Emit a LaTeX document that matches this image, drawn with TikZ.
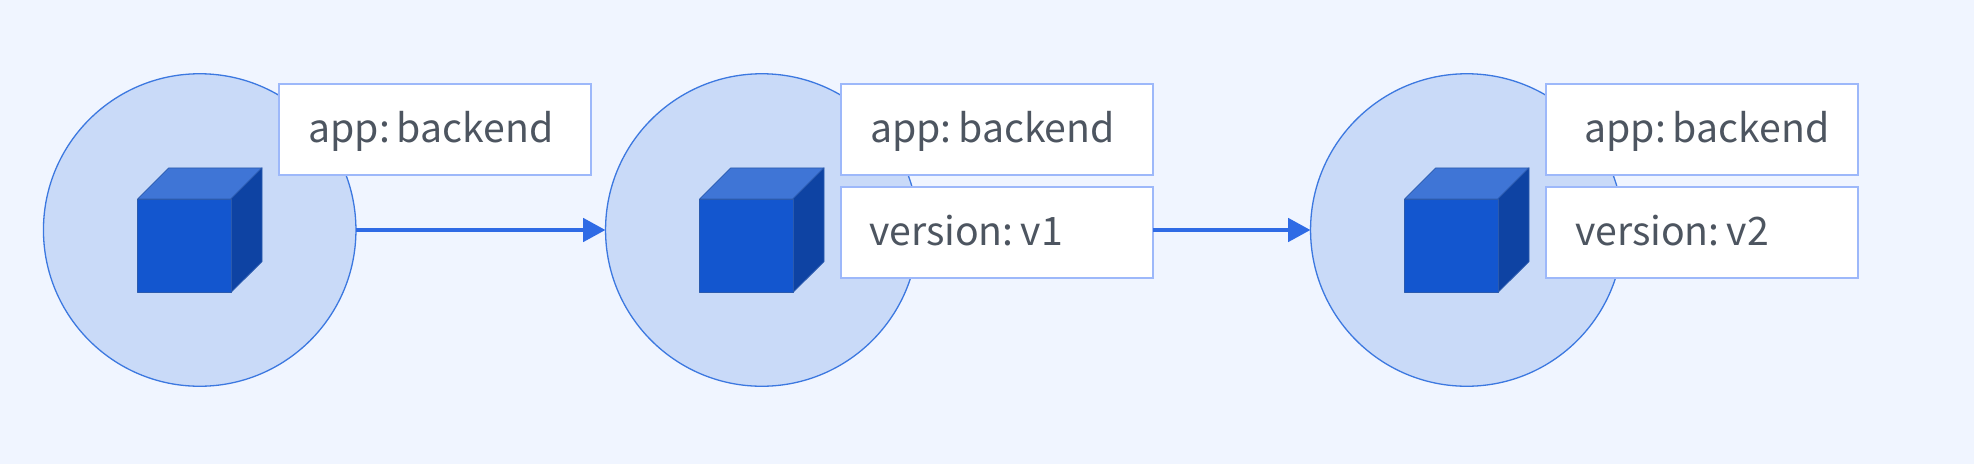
\documentclass[tikz,border=0pt]{standalone}
\usepackage{fontspec}
\setmainfont[WordSpace=0.45]{Noto Sans CJK SC}
\usetikzlibrary{arrows.meta}
\definecolor{bgc}{HTML}{F0F5FF}
\definecolor{circf}{HTML}{C9DAF8}
\definecolor{circd}{HTML}{3C78E0}
\definecolor{boxd}{HTML}{9DB8FA}
\definecolor{cubef}{HTML}{1356CF}
\definecolor{cubet}{HTML}{3F75D6}
\definecolor{cuber}{HTML}{0E43A3}
\definecolor{cubed}{HTML}{2A5AAE}
\definecolor{arrc}{HTML}{2F6BE5}
\definecolor{txtc}{HTML}{4D5560}
\tikzset{
  x=1pt,y=-1pt,
  podc/.style={circle,draw=circd,fill=circf,line width=1.3pt,minimum size=312.5pt,inner sep=0pt,outer sep=0pt},
  labbox/.style={rectangle,draw=boxd,fill=white,line width=1.7pt,minimum width=312pt,minimum height=91pt,inner sep=0pt,outer sep=0pt},
  labtxt/.style={anchor=base west,inner sep=0pt,outer sep=0pt,text=txtc,font=\fontsize{39.2pt}{44pt}\selectfont},
  conn/.style={draw=arrc,line width=4.8pt,-{Triangle[length=22.5pt,width=23pt]}},
  cubeline/.style={draw=cubed,line width=0.8pt,line join=round},
  pics/kube/.style={code={
    \path[cubeline,fill=cubet] (137.7,198.3) -- (168.7,167.3) -- (262,167.3) -- (231,198.3) -- cycle;
    \path[cubeline,fill=cuber] (231,198.3) -- (262,167.3) -- (262,261) -- (231,291.7) -- cycle;
    \path[cubeline,fill=cubef] (137.7,198.3) -- (231,198.3) -- (231,291.7) -- (137.7,291.7) -- cycle;
  }}
}
\begin{document}
\begin{tikzpicture}
\useasboundingbox[fill=bgc] (0,0) rectangle (1974,464);
% pods
\node[podc] (c1) at (199.7,230) {};
\node[podc] (c2) at (761.8,230) {};
\node[podc] (c3) at (1466.8,230) {};
% cubes
\pic at (0,0.6) {kube};
\pic at (562,0.6) {kube};
\pic at (1267,0.6) {kube};
% label boxes
\node[labbox] (b1) at (435.3,129.4) {};
\node[labbox] (b2) at (997,129.4) {};
\node[labbox] (v2) at (997,232.2) {};
\node[labbox] (b3) at (1702,129.4) {};
\node[labbox] (v3) at (1702,232.2) {};
% label texts
\node[labtxt] (t1) at (308.5,142.2) {app: backend};
\node[labtxt] (t2) at (870,142.2) {app: backend};
\node[labtxt] (t3) at (869,245) {version: v1};
\node[labtxt] (t4) at (1584.5,142.2) {app: backend};
\node[labtxt] (t5) at (1575,245) {version: v2};
% connectors
\draw[conn] (c1.east) -- (c2.west);
\draw[conn] (c3.west -| v2.east) -- (c3.west);
\end{tikzpicture}
\end{document}
